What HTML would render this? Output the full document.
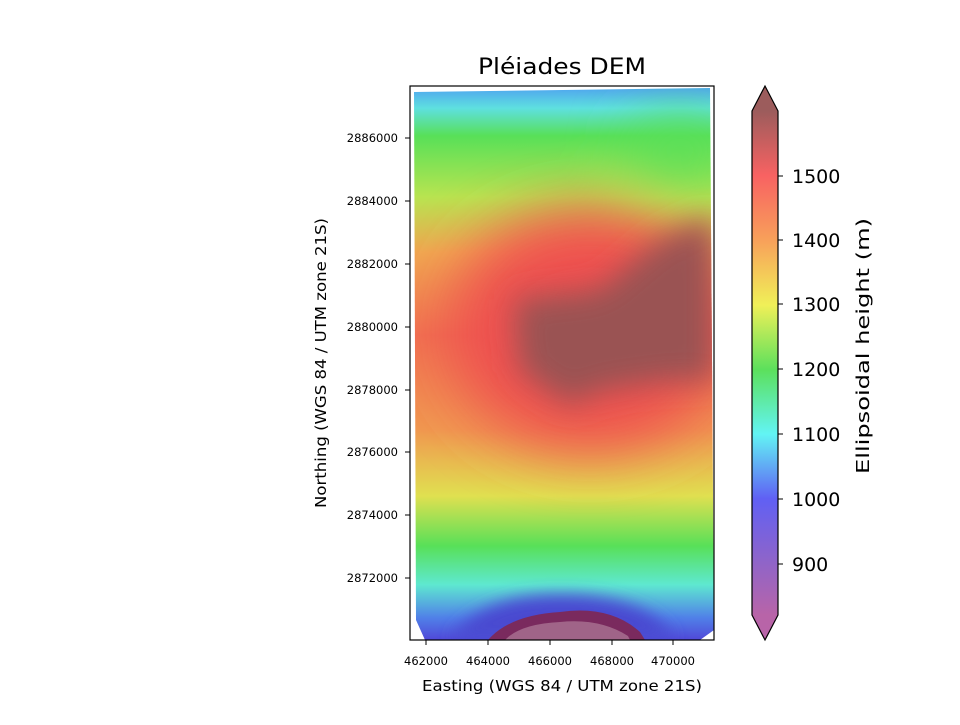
<!DOCTYPE html>
<html><head><meta charset="utf-8"><style>
body{margin:0;background:#fff;}
svg text{font-family:"DejaVu Sans","Liberation Sans",sans-serif;}
</style></head><body>
<svg width="960" height="720" viewBox="0 0 960 720" xmlns="http://www.w3.org/2000/svg">
<defs>
<linearGradient id="vg" x1="0" y1="86" x2="0" y2="640" gradientUnits="userSpaceOnUse">
<stop offset="0" stop-color="#4ea0f0"/>
<stop offset="0.04" stop-color="#5ee0e0"/>
<stop offset="0.09" stop-color="#58e058"/>
<stop offset="0.2" stop-color="#b8e450"/>
<stop offset="0.3" stop-color="#f0a850"/>
<stop offset="0.45" stop-color="#f07050"/>
<stop offset="0.62" stop-color="#f09850"/>
<stop offset="0.74" stop-color="#e0e050"/>
<stop offset="0.83" stop-color="#58e058"/>
<stop offset="0.9" stop-color="#5ee8d0"/>
<stop offset="0.96" stop-color="#5080e8"/>
<stop offset="1" stop-color="#5048d8"/>
</linearGradient>
<linearGradient id="cb" x1="0" y1="111" x2="0" y2="615" gradientUnits="userSpaceOnUse">
<stop offset="0" stop-color="#9c5c5c"/>
<stop offset="0.128" stop-color="#f86262"/>
<stop offset="0.256" stop-color="#f8a05a"/>
<stop offset="0.385" stop-color="#f0f058"/>
<stop offset="0.513" stop-color="#5ce05c"/>
<stop offset="0.641" stop-color="#62f4f4"/>
<stop offset="0.769" stop-color="#6060f4"/>
<stop offset="0.897" stop-color="#9064c8"/>
<stop offset="1" stop-color="#b864a8"/>
</linearGradient>
<filter id="b1" x="-50%" y="-50%" width="200%" height="200%"><feGaussianBlur stdDeviation="30"/></filter>
<filter id="b2" x="-50%" y="-50%" width="200%" height="200%"><feGaussianBlur stdDeviation="15"/></filter>
<filter id="b3" x="-50%" y="-50%" width="200%" height="200%"><feGaussianBlur stdDeviation="8"/></filter>
<clipPath id="ax"><path d="M414 92 L710 88 L714 630 L700 640 L425 640 L416 620 Z"/></clipPath>
</defs>
<text x="562" y="74" font-size="22" text-anchor="middle" textLength="168" lengthAdjust="spacingAndGlyphs">Pléiades DEM</text>
<g clip-path="url(#ax)">
<rect x="410" y="86" width="304" height="554" fill="url(#vg)"/>
<g filter="url(#b1)">
<ellipse cx="590" cy="330" rx="140" ry="120" fill="#ee5050"/>
<ellipse cx="680" cy="150" rx="50" ry="30" fill="#58e058"/>
</g>
<g filter="url(#b2)">
<path d="M515 300 L600 290 L660 240 L714 215 L714 380 L670 380 L600 390 L570 405 L520 370 Z" fill="#9a5252"/>
</g>
<g filter="url(#b3)">
<path d="M450 640 Q480 595 560 595 Q650 595 675 640 Z" fill="#4848d0"/>
</g>
<path d="M488 640 Q510 615 560 612 Q610 605 640 632 L645 640 Z" fill="#7a2a5e"/>
<path d="M505 640 Q520 624 560 622 Q600 618 628 636 L630 640 Z" fill="#a06488"/>
</g>
<rect x="410" y="86" width="304" height="554" fill="none" stroke="#000" stroke-width="1.2"/>
<g font-size="11.5" text-anchor="middle">
<line x1="426" y1="640" x2="426" y2="645" stroke="#000"/><text x="426" y="665">462000</text>
<line x1="488" y1="640" x2="488" y2="645" stroke="#000"/><text x="488" y="665">464000</text>
<line x1="550" y1="640" x2="550" y2="645" stroke="#000"/><text x="550" y="665">466000</text>
<line x1="612" y1="640" x2="612" y2="645" stroke="#000"/><text x="612" y="665">468000</text>
<line x1="673" y1="640" x2="673" y2="645" stroke="#000"/><text x="673" y="665">470000</text>
</g>
<g font-size="11.5" text-anchor="end">
<line x1="405" y1="138" x2="410" y2="138" stroke="#000"/><text x="398" y="142">2886000</text>
<line x1="405" y1="201" x2="410" y2="201" stroke="#000"/><text x="398" y="205">2884000</text>
<line x1="405" y1="264" x2="410" y2="264" stroke="#000"/><text x="398" y="268">2882000</text>
<line x1="405" y1="327" x2="410" y2="327" stroke="#000"/><text x="398" y="331">2880000</text>
<line x1="405" y1="390" x2="410" y2="390" stroke="#000"/><text x="398" y="394">2878000</text>
<line x1="405" y1="452" x2="410" y2="452" stroke="#000"/><text x="398" y="456">2876000</text>
<line x1="405" y1="515" x2="410" y2="515" stroke="#000"/><text x="398" y="519">2874000</text>
<line x1="405" y1="578" x2="410" y2="578" stroke="#000"/><text x="398" y="582">2872000</text>
</g>
<text x="562" y="691" font-size="15" text-anchor="middle" textLength="280" lengthAdjust="spacingAndGlyphs">Easting (WGS 84 / UTM zone 21S)</text>
<text transform="translate(326,363) rotate(-90)" font-size="15" text-anchor="middle" textLength="290" lengthAdjust="spacingAndGlyphs">Northing (WGS 84 / UTM zone 21S)</text>
<path d="M752 111 L765 86 L778 111 Z" fill="#9c5c5c"/>
<path d="M752 615 L765 640 L778 615 Z" fill="#b864a8"/>
<rect x="752" y="111" width="26" height="504" fill="url(#cb)"/>
<path d="M752 111 L765 86 L778 111 L778 615 L765 640 L752 615 Z" fill="none" stroke="#000" stroke-width="1.2"/>
<g font-size="19">
<line x1="778" y1="176" x2="783" y2="176" stroke="#000"/><text x="792" y="183">1500</text>
<line x1="778" y1="240" x2="783" y2="240" stroke="#000"/><text x="792" y="247">1400</text>
<line x1="778" y1="304" x2="783" y2="304" stroke="#000"/><text x="792" y="311">1300</text>
<line x1="778" y1="369" x2="783" y2="369" stroke="#000"/><text x="792" y="376">1200</text>
<line x1="778" y1="434" x2="783" y2="434" stroke="#000"/><text x="792" y="441">1100</text>
<line x1="778" y1="499" x2="783" y2="499" stroke="#000"/><text x="792" y="506">1000</text>
<line x1="778" y1="564" x2="783" y2="564" stroke="#000"/><text x="792" y="571">900</text>
</g>
<text transform="translate(869,346) rotate(-90)" font-size="18" text-anchor="middle" textLength="256" lengthAdjust="spacingAndGlyphs">Ellipsoidal height (m)</text>
</svg>
</body></html>
